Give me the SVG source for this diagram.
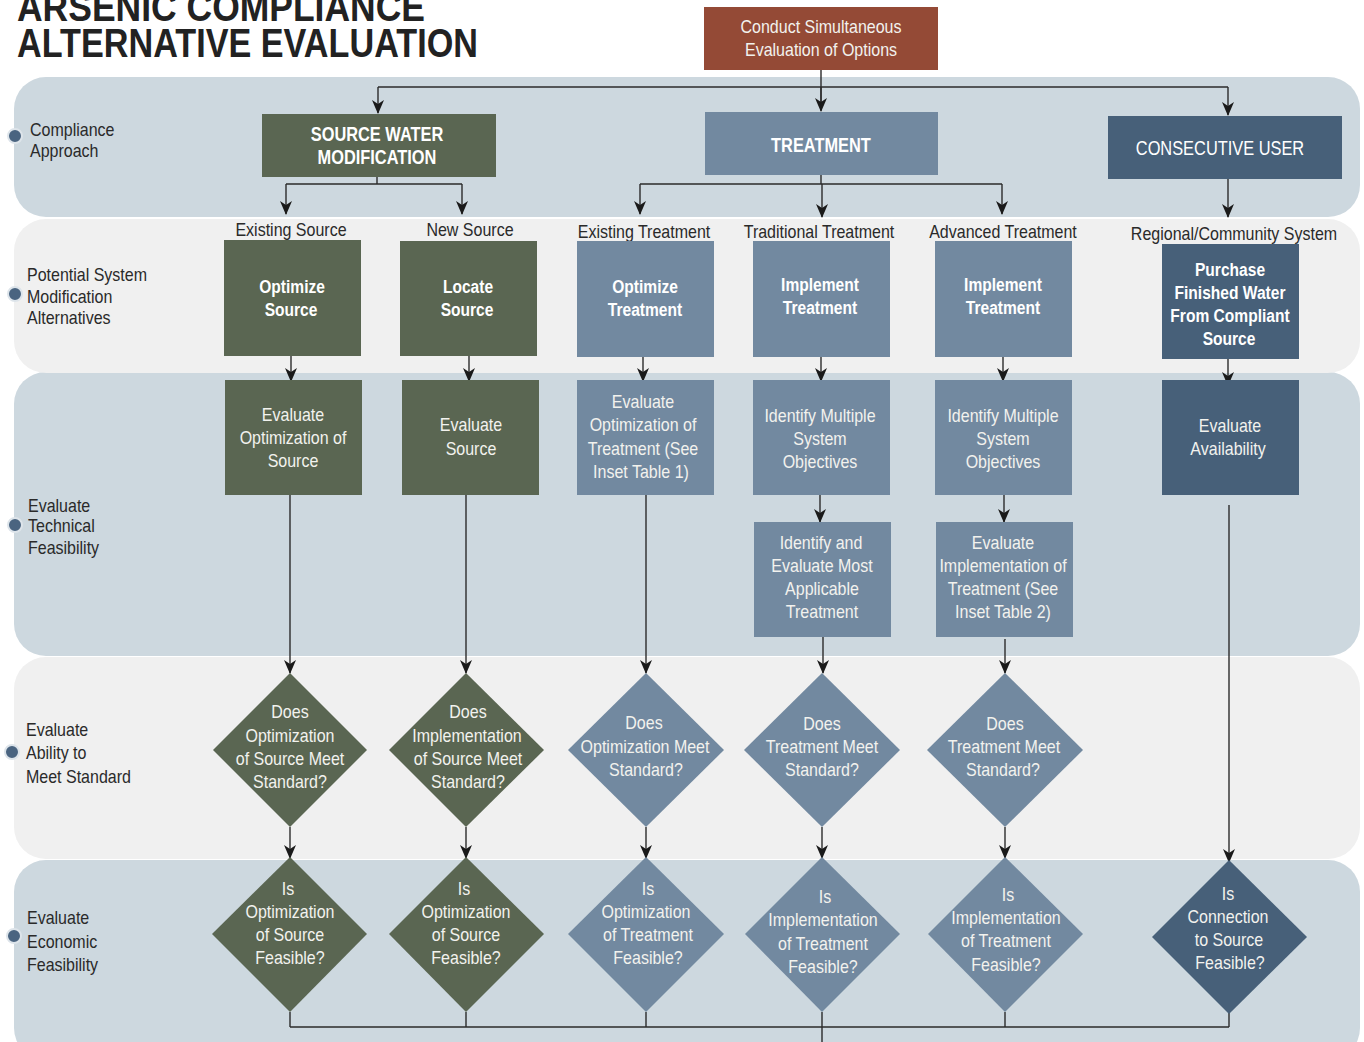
<svg xmlns="http://www.w3.org/2000/svg" width="1364" height="1042" viewBox="0 0 1364 1042">
<style>
.band1{fill:#cdd8df}
.band2{fill:#f0f0f0}
.olive{fill:#5a6652}
.blue{fill:#7289a0}
.dark{fill:#476079}
.brick{fill:#944a36}
text{font-family:"Liberation Sans Narrow","Arial Narrow","Liberation Sans",sans-serif}
.t{font-size:18px;fill:#f2f2ee;text-anchor:middle}
.tb{font-size:19px;font-weight:bold;fill:#ffffff;text-anchor:middle}
.hd{font-size:20px;fill:#ffffff;text-anchor:middle}
.lab{font-size:18px;fill:#2a2a2a}
.cat{font-size:18px;fill:#2a2a2a;text-anchor:middle}
.t,.cat{transform-box:fill-box;transform-origin:50% 50%;transform:scaleX(0.89)}
.lab{transform-box:fill-box;transform-origin:0% 50%;transform:scaleX(0.89)}
.tb,.hd{transform-box:fill-box;transform-origin:50% 50%;transform:scaleX(0.82)}
.title{font-family:"Liberation Sans",sans-serif;font-size:40px;font-weight:bold;fill:#222}
.dot{fill:#4a6480;stroke:#dde4ea;stroke-width:2}
.c{fill:none;stroke:#2b2b2b;stroke-width:1.4}
.ca{fill:none;stroke:#2b2b2b;stroke-width:1.4;marker-end:url(#ah)}
</style>
<defs>
<marker id="ah" viewBox="0 0 14 12" markerWidth="14" markerHeight="12" refX="13" refY="6" orient="auto" markerUnits="userSpaceOnUse">
<path d="M0,0 L14,6 L0,12 L4,6 z" fill="#1a1a1a"/>
</marker>
</defs>
<rect width="1364" height="1042" fill="#ffffff"/>
<g id="bands">
<rect class="band1" x="14" y="860" width="1346" height="200" rx="32"/>
<rect class="band2" x="14" y="657" width="1346" height="202" rx="32"/>
<rect class="band1" x="14" y="372" width="1346" height="284" rx="32"/>
<rect class="band2" x="14" y="219" width="1346" height="154" rx="32"/>
<rect class="band1" x="14" y="77" width="1346" height="140" rx="32"/>
</g>
<g id="title">
<text class="title" x="17" y="21" textLength="408" lengthAdjust="spacingAndGlyphs">ARSENIC COMPLIANCE</text>
<text class="title" x="17" y="57" textLength="461" lengthAdjust="spacingAndGlyphs">ALTERNATIVE EVALUATION</text>
</g>
<g id="lane-labels">
<circle class="dot" cx="15" cy="136" r="7"/>
<text class="lab" x="30" y="136">Compliance</text>
<text class="lab" x="30" y="157">Approach</text>
<circle class="dot" cx="15" cy="294" r="7"/>
<text class="lab" x="27" y="281">Potential System</text>
<text class="lab" x="27" y="303">Modification</text>
<text class="lab" x="27" y="324">Alternatives</text>
<circle class="dot" cx="15" cy="525" r="7"/>
<text class="lab" x="28" y="512">Evaluate</text>
<text class="lab" x="28" y="532">Technical</text>
<text class="lab" x="28" y="554">Feasibility</text>
<circle class="dot" cx="12" cy="752" r="7"/>
<text class="lab" x="26" y="736">Evaluate</text>
<text class="lab" x="26" y="759">Ability to</text>
<text class="lab" x="26" y="783">Meet Standard</text>
<circle class="dot" cx="14" cy="936" r="7"/>
<text class="lab" x="27" y="924">Evaluate</text>
<text class="lab" x="27" y="948">Economic</text>
<text class="lab" x="27" y="971">Feasibility</text>
</g>
<g id="category-labels">
<text class="cat" x="291" y="236">Existing Source</text>
<text class="cat" x="470" y="236">New Source</text>
<text class="cat" x="644" y="238">Existing Treatment</text>
<text class="cat" x="819" y="238">Traditional Treatment</text>
<text class="cat" x="1003" y="238">Advanced Treatment</text>
<text class="cat" x="1234" y="240">Regional/Community System</text>
</g>
<g id="connectors">
<path class="c" d="M821,70 V110"/>
<path class="ca" d="M821,87 V111"/>
<path class="c" d="M378,87 H1228"/>
<path class="ca" d="M378,87 V113"/>
<path class="ca" d="M1228,87 V115"/>
<path class="c" d="M377,177 V184 M286,184 H462"/>
<path class="ca" d="M286,184 V214"/>
<path class="ca" d="M462,184 V214"/>
<path class="c" d="M821,175 V184 M640,184 H1002"/>
<path class="ca" d="M640,184 V214"/>
<path class="ca" d="M822,184 V217"/>
<path class="ca" d="M1002,184 V214"/>
<path class="ca" d="M1228,179 V217"/>
<path class="ca" d="M291,356 V381"/>
<path class="ca" d="M469,356 V381"/>
<path class="ca" d="M643,356 V381"/>
<path class="ca" d="M821,356 V381"/>
<path class="ca" d="M1003,356 V381"/>
<path class="ca" d="M1228,359 V385"/>
<path class="ca" d="M820,495 V522"/>
<path class="ca" d="M1004,495 V522"/>
<path class="ca" d="M290,492 V673"/>
<path class="ca" d="M466,492 V673"/>
<path class="ca" d="M646,492 V673"/>
<path class="ca" d="M823,637 V673"/>
<path class="ca" d="M1005,639 V673"/>
<path class="ca" d="M1229,505 V862"/>
<path class="ca" d="M290,827 V858"/>
<path class="ca" d="M466,827 V858"/>
<path class="ca" d="M646,827 V858"/>
<path class="ca" d="M822,827 V858"/>
<path class="ca" d="M1005,827 V858"/>
<path class="c" d="M290,1012 V1027 M466,1012 V1027 M646,1012 V1027 M822,1012 V1042 M1005,1012 V1027 M1229,1013 V1027 M290,1027 H1229"/>
</g>
<g id="n-start">
<rect class="brick" x="704" y="7" width="234" height="63"/>
<text class="t" x="821" y="33">Conduct Simultaneous</text>
<text class="t" x="821" y="56">Evaluation of Options</text>
</g>
<g id="n-swm">
<rect class="olive" x="262" y="114" width="234" height="63"/>
<text class="tb" style="font-size:20px" x="377" y="141">SOURCE WATER</text>
<text class="tb" style="font-size:20px" x="377" y="164">MODIFICATION</text>
</g>
<g id="n-treatment">
<rect class="blue" x="705" y="112" width="233" height="63"/>
<text class="tb" style="font-size:20px" x="821" y="152">TREATMENT</text>
</g>
<g id="n-consec">
<rect class="dark" x="1108" y="116" width="234" height="63"/>
<text class="hd" x="1220" y="155">CONSECUTIVE USER</text>
</g>
<g id="n-opt-source">
<rect class="olive" x="224" y="240" width="137" height="116"/>
<text class="tb" x="292" y="293">Optimize</text>
<text class="tb" x="291" y="316">Source</text>
</g>
<g id="n-locate-source">
<rect class="olive" x="400" y="241" width="137" height="115"/>
<text class="tb" x="468" y="293">Locate</text>
<text class="tb" x="467" y="316">Source</text>
</g>
<g id="n-opt-treat">
<rect class="blue" x="577" y="241" width="137" height="116"/>
<text class="tb" x="645" y="293">Optimize</text>
<text class="tb" x="645" y="316">Treatment</text>
</g>
<g id="n-impl-trad">
<rect class="blue" x="753" y="241" width="137" height="116"/>
<text class="tb" x="820" y="291">Implement</text>
<text class="tb" x="820" y="314">Treatment</text>
</g>
<g id="n-impl-adv">
<rect class="blue" x="935" y="241" width="137" height="116"/>
<text class="tb" x="1003" y="291">Implement</text>
<text class="tb" x="1003" y="314">Treatment</text>
</g>
<g id="n-purchase">
<rect class="dark" x="1162" y="244" width="137" height="115"/>
<text class="tb" x="1230" y="276">Purchase</text>
<text class="tb" x="1230" y="299">Finished Water</text>
<text class="tb" x="1230" y="322">From  Compliant</text>
<text class="tb" x="1229" y="345">Source</text>
</g>
<g id="n-eval-opt-source">
<rect class="olive" x="225" y="380" width="137" height="115"/>
<text class="t" x="293" y="421">Evaluate</text>
<text class="t" x="293" y="444">Optimization of</text>
<text class="t" x="293" y="467">Source</text>
</g>
<g id="n-eval-source">
<rect class="olive" x="402" y="380" width="137" height="115"/>
<text class="t" x="471" y="431">Evaluate</text>
<text class="t" x="471" y="455">Source</text>
</g>
<g id="n-eval-opt-treat">
<rect class="blue" x="577" y="380" width="137" height="115"/>
<text class="t" x="643" y="408">Evaluate</text>
<text class="t" x="643" y="431">Optimization of</text>
<text class="t" x="643" y="455">Treatment (See</text>
<text class="t" x="641" y="478">Inset Table 1)</text>
</g>
<g id="n-ident-trad">
<rect class="blue" x="753" y="380" width="137" height="115"/>
<text class="t" x="820" y="422">Identify Multiple</text>
<text class="t" x="820" y="445">System</text>
<text class="t" x="820" y="468">Objectives</text>
</g>
<g id="n-ident-adv">
<rect class="blue" x="935" y="380" width="137" height="115"/>
<text class="t" x="1003" y="422">Identify Multiple</text>
<text class="t" x="1003" y="445">System</text>
<text class="t" x="1003" y="468">Objectives</text>
</g>
<g id="n-eval-avail">
<rect class="dark" x="1162" y="380" width="137" height="115"/>
<text class="t" x="1230" y="432">Evaluate</text>
<text class="t" x="1228" y="455">Availability</text>
</g>
<g id="n-ident-eval">
<rect class="blue" x="754" y="522" width="137" height="115"/>
<text class="t" x="821" y="549">Identify and</text>
<text class="t" x="822" y="572">Evaluate Most</text>
<text class="t" x="822" y="595">Applicable</text>
<text class="t" x="822" y="618">Treatment</text>
</g>
<g id="n-eval-impl">
<rect class="blue" x="936" y="522" width="137" height="115"/>
<text class="t" x="1003" y="549">Evaluate</text>
<text class="t" x="1003" y="572">Implementation of</text>
<text class="t" x="1003" y="595">Treatment (See</text>
<text class="t" x="1003" y="618">Inset Table 2)</text>
</g>
<g id="d-meet-1">
<polygon class="olive" points="290,673 367,750 290,827 213,750"/>
<text class="t" x="290" y="718">Does</text>
<text class="t" x="290" y="742">Optimization</text>
<text class="t" x="290" y="765">of Source Meet</text>
<text class="t" x="290" y="788">Standard?</text>
</g>
<g id="d-meet-2">
<polygon class="olive" points="466,673 544,750 466,827 389,750"/>
<text class="t" x="468" y="718">Does</text>
<text class="t" x="467" y="742">Implementation</text>
<text class="t" x="468" y="765">of  Source Meet</text>
<text class="t" x="468" y="788">Standard?</text>
</g>
<g id="d-meet-3">
<polygon class="blue" points="646,673 724,750 646,827 568,750"/>
<text class="t" x="644" y="729">Does</text>
<text class="t" x="645" y="753">Optimization Meet</text>
<text class="t" x="646" y="776">Standard?</text>
</g>
<g id="d-meet-4">
<polygon class="blue" points="822,673 900,750 822,827 744,750"/>
<text class="t" x="822" y="730">Does</text>
<text class="t" x="822" y="753">Treatment Meet</text>
<text class="t" x="822" y="776">Standard?</text>
</g>
<g id="d-meet-5">
<polygon class="blue" points="1005,673 1083,750 1005,827 927,750"/>
<text class="t" x="1005" y="730">Does</text>
<text class="t" x="1004" y="753">Treatment Meet</text>
<text class="t" x="1003" y="776">Standard?</text>
</g>
<g id="d-feas-1">
<polygon class="olive" points="290,857 367,934 290,1012 212,934"/>
<text class="t" x="288" y="895">Is</text>
<text class="t" x="290" y="918">Optimization</text>
<text class="t" x="290" y="941">of Source</text>
<text class="t" x="290" y="964">Feasible?</text>
</g>
<g id="d-feas-2">
<polygon class="olive" points="466,857 544,934 466,1012 389,934"/>
<text class="t" x="464" y="895">Is</text>
<text class="t" x="466" y="918">Optimization</text>
<text class="t" x="466" y="941">of Source</text>
<text class="t" x="466" y="964">Feasible?</text>
</g>
<g id="d-feas-3">
<polygon class="blue" points="646,857 724,934 646,1012 568,934"/>
<text class="t" x="648" y="895">Is</text>
<text class="t" x="646" y="918">Optimization</text>
<text class="t" x="648" y="941">of Treatment</text>
<text class="t" x="648" y="964">Feasible?</text>
</g>
<g id="d-feas-4">
<polygon class="blue" points="822,857 900,934 822,1012 745,934"/>
<text class="t" x="825" y="903">Is</text>
<text class="t" x="823" y="926">Implementation</text>
<text class="t" x="823" y="950">of Treatment</text>
<text class="t" x="823" y="973">Feasible?</text>
</g>
<g id="d-feas-5">
<polygon class="blue" points="1005,857 1083,934 1005,1012 928,934"/>
<text class="t" x="1008" y="901">Is</text>
<text class="t" x="1006" y="924">Implementation</text>
<text class="t" x="1006" y="947">of Treatment</text>
<text class="t" x="1006" y="971">Feasible?</text>
</g>
<g id="d-feas-6">
<polygon class="dark" points="1229,860 1307,937 1229,1014 1152,937"/>
<text class="t" x="1228" y="900">Is</text>
<text class="t" x="1228" y="923">Connection</text>
<text class="t" x="1229" y="946">to Source</text>
<text class="t" x="1230" y="969">Feasible?</text>
</g>
</svg>
